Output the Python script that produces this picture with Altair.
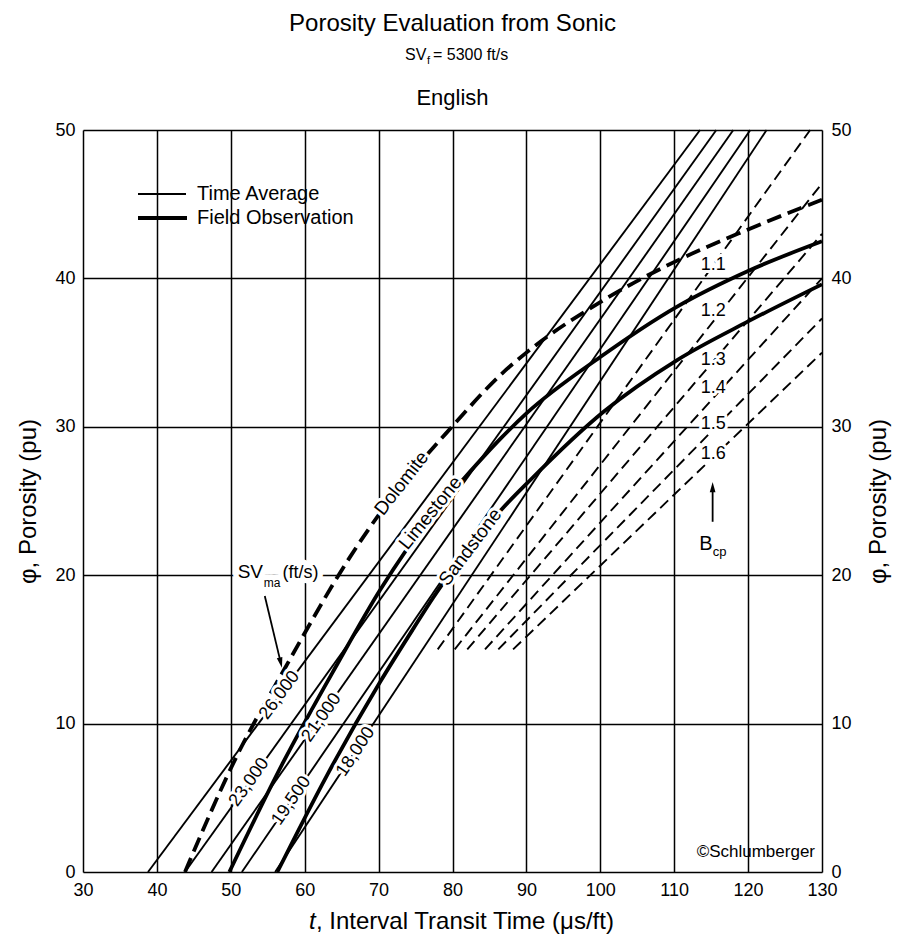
import altair as alt
import pandas as pd

FONT = "Liberation Sans, Arial, Helvetica, sans-serif"

# ---------------- data ----------------
x_ticks = [30, 40, 50, 60, 70, 80, 90, 100, 110, 120, 130]
y_ticks = [0, 10, 20, 30, 40, 50]

# Time-average lines, labelled by matrix sonic velocity SVma (ft/s)
ta_names = ["26,000", "23,000", "21,000", "19,500", "18,000"]
ta_t_start = [38.8, 43.8, 47.4, 51.5, 56.0]
ta_phi_start = [0, 0, 0, 0, 0]
ta_t_end = [113.5, 115.7, 118.0, 120.3, 122.5]
ta_phi_end = [50, 50, 50, 50, 50]

# Field-observation curves
dol_t = [43.8, 50.8, 57.4, 66.1, 70.5, 80.1, 86.5, 90.0, 100.0, 110.4, 120.0, 130.0]
dol_phi = [0, 7.8, 13.8, 21.2, 24.4, 30.1, 33.5, 35.0, 38.4, 41.2, 43.3, 45.3]
lime_t = [49.8, 57.1, 64.4, 70.2, 77.0, 81.7, 86.5, 90.0, 100.0, 110.4, 120.0, 130.0]
lime_phi = [0, 7.4, 14.0, 19.0, 23.9, 26.6, 29.2, 30.9, 34.7, 38.1, 40.5, 42.5]
sand_t = [56.3, 63.0, 70.2, 74.7, 77.4, 82.0, 86.4, 90.5, 100.4, 110.4, 120.0, 130.0]
sand_phi = [0, 6.5, 12.8, 16.4, 18.5, 21.7, 24.3, 26.4, 31.0, 34.5, 37.1, 39.6]

# Compaction-corrected (Bcp) lines
bcp_names = ["1.1", "1.2", "1.3", "1.4", "1.5", "1.6"]
bcp_t_start = [78.0, 80.3, 82.0, 84.4, 86.2, 88.2]
bcp_phi_start = [15, 15, 15, 15, 15, 15]
bcp_t_end = [128.4, 130, 130, 130, 130, 130]
bcp_phi_end = [50.0, 46.4, 43.0, 40.0, 37.3, 35.0]

# ---------------- annotation placement (data coordinates) ----------------
ta_lab_t = [56.6, 52.5, 62.3, 58.2, 66.9]
ta_lab_phi = [11.9, 6.05, 10.4, 4.8, 8.1]
ta_lab_angle = [306.6, 305.6, 305.1, 304.4, 303.5]

lith_names = ["Dolomite", "Limestone", "Sandstone"]
lith_lab_t = [73.1, 77.0, 82.4]
lith_lab_phi = [26.2, 24.2, 21.9]
lith_lab_angle = [308, 309, 307]

bcp_lab_t = [115.3] * 6
bcp_lab_phi = [40.9, 37.8, 34.5, 32.6, 30.2, 28.2]

# ---------------- build tables ----------------
xs = alt.Scale(domain=[30, 130], nice=False, zero=False)
ys = alt.Scale(domain=[0, 50], nice=False, zero=False)
W, H = 739, 742

ta_df = pd.DataFrame({"name": ta_names, "t0": ta_t_start, "p0": ta_phi_start,
                      "t1": ta_t_end, "p1": ta_phi_end})
bcp_df = pd.DataFrame({"name": bcp_names, "t0": bcp_t_start, "p0": bcp_phi_start,
                       "t1": bcp_t_end, "p1": bcp_phi_end})


def curve(name, ts, ps):
    return pd.DataFrame({"lith": name, "t": ts, "phi": ps, "ord": range(len(ts))})


solid_df = pd.concat([curve("Limestone", lime_t, lime_phi), curve("Sandstone", sand_t, sand_phi)])
dol_df = curve("Dolomite", dol_t, dol_phi)

one = pd.DataFrame({"a": [0]})

axis_common = dict(
    grid=True, gridColor="black", gridWidth=1.5, gridOpacity=1,
    domain=False, ticks=False, labelFlush=False,
    labelFont=FONT, labelFontSize=18, labelColor="black",
    titleFont=FONT, titleFontSize=24, titleFontWeight="normal", titleColor="black",
)


def X(f):
    return alt.X(f, scale=xs, axis=None)


def Y(f):
    return alt.Y(f, scale=ys, axis=None)


# time-average lines (carry bottom + left axes with grid)
ta_layer = alt.Chart(ta_df).mark_rule(color="black", strokeWidth=1.9).encode(
    x=alt.X("t0:Q", scale=xs, axis=alt.Axis(values=x_ticks, orient="bottom", labelPadding=9,
                                           title=None, **axis_common)),
    x2="t1:Q",
    y=alt.Y("p0:Q", scale=ys, axis=alt.Axis(values=y_ticks, orient="left", labelPadding=8,
                                           title="φ, Porosity (pu)", titlePadding=14,
                                           **axis_common)),
    y2="p1:Q",
)

right_axis = alt.Chart(pd.DataFrame({"phi": y_ticks})).mark_point(opacity=0).encode(
    x=alt.value(0),
    y=alt.Y("phi:Q", scale=ys, axis=alt.Axis(
        values=y_ticks, orient="right", grid=False, domain=False, ticks=False, labelFlush=False,
        labelPadding=9, labelFont=FONT, labelFontSize=18, labelColor="black",
        title="φ, Porosity (pu)", titleAngle=270, titleBaseline="top", titlePadding=15,
        titleFont=FONT, titleFontSize=24, titleFontWeight="normal", titleColor="black")),
)

bcp_layer = alt.Chart(bcp_df).mark_rule(color="black", strokeWidth=1.9, strokeDash=[11, 6]).encode(
    x=X("t0:Q"), x2="t1:Q", y=Y("p0:Q"), y2="p1:Q")

solid_layer = alt.Chart(solid_df).mark_line(color="black", strokeWidth=3.8, interpolate="monotone").encode(
    x=X("t:Q"), y=Y("phi:Q"), detail="lith:N", order="ord:Q")

dol_layer = alt.Chart(dol_df).mark_line(color="black", strokeWidth=3.8, strokeDash=[15, 7],
                                        interpolate="monotone").encode(
    x=X("t:Q"), y=Y("phi:Q"), order="ord:Q")

halos, texts = [], []


def halo_text(df, size, angle=False, align="center", baseline="middle", halo=6):
    enc = dict(x=X("t:Q"), y=Y("phi:Q"), text="label:N")
    if angle:
        enc["angle"] = alt.Angle("angle:Q", scale=None)
    halos.append(alt.Chart(df).mark_text(font=FONT, fontSize=size, align=align, baseline=baseline,
                                         fill="white", stroke="white", strokeWidth=halo,
                                         strokeJoin="round").encode(**enc))
    texts.append(alt.Chart(df).mark_text(font=FONT, fontSize=size, align=align, baseline=baseline,
                                         color="black").encode(**enc))


ta_lab_df = pd.DataFrame({"label": ta_names, "t": ta_lab_t, "phi": ta_lab_phi, "angle": ta_lab_angle})
lith_lab_df = pd.DataFrame({"label": lith_names, "t": lith_lab_t, "phi": lith_lab_phi, "angle": lith_lab_angle})
bcp_lab_df = pd.DataFrame({"label": bcp_names, "t": bcp_lab_t, "phi": bcp_lab_phi})

sv_main = pd.DataFrame({"label": ["SV"], "t": [54.36], "phi": [19.8]})
sv_sub = pd.DataFrame({"label": ["ma"], "t": [54.45], "phi": [19.2]})
sv_unit = pd.DataFrame({"label": ["(ft/s)"], "t": [57.0], "phi": [19.8]})
b_main = pd.DataFrame({"label": ["B"], "t": [114.3], "phi": [21.7]})
b_sub = pd.DataFrame({"label": ["cp"], "t": [115.2], "phi": [21.3]})

halo_text(ta_lab_df, 18, angle=True)
halo_text(lith_lab_df, 19, angle=True)
halo_text(bcp_lab_df, 18)
halo_text(sv_main, 19, align="right", baseline="alphabetic", halo=11)
halo_text(sv_sub, 12, align="left", baseline="alphabetic", halo=11)
halo_text(sv_unit, 18, align="left", baseline="alphabetic", halo=11)
halo_text(b_main, 20, baseline="alphabetic")
halo_text(b_sub, 13, align="left", baseline="alphabetic")

# arrows
arrow_df = pd.DataFrame({"t0": [54.6, 115.2], "p0": [18.6, 23.6], "t1": [56.74, 115.2], "p1": [14.14, 25.9]})
head_df = pd.DataFrame({"t": [56.74, 115.2], "phi": [14.14, 25.9], "angle": [167, 0]})
arrow_layer = alt.Chart(arrow_df).mark_rule(color="black", strokeWidth=1.8).encode(
    x=X("t0:Q"), x2="t1:Q", y=Y("p0:Q"), y2="p1:Q")
head_layer = alt.Chart(head_df).mark_point(shape="M0,-1L0.5,0.8L-0.5,0.8Z", filled=True, size=130,
                                           color="black", opacity=1).encode(
    x=X("t:Q"), y=Y("phi:Q"), angle=alt.Angle("angle:Q", scale=None))

# legend (pixel placement inside plot)
leg_thin = alt.Chart(one).mark_rule(color="black", strokeWidth=2).encode(
    x=alt.value(55), x2=alt.value(103), y=alt.value(64))
leg_thick = alt.Chart(one).mark_rule(color="black", strokeWidth=4.2).encode(
    x=alt.value(55), x2=alt.value(104), y=alt.value(88))


def ptext(txt, x, y, size, align="left", baseline="middle", style=None):
    kw = dict(text=txt, font=FONT, fontSize=size, align=align, baseline=baseline, color="black")
    if style:
        kw["fontStyle"] = style
    return alt.Chart(one).mark_text(**kw).encode(x=alt.value(x), y=alt.value(y))


extras = [
    ptext("Time Average", 114, 64, 20),
    ptext("Field Observation", 114, 88, 20),
    ptext("©Schlumberger", 732, 722, 17, align="right"),
    ptext("Porosity Evaluation from Sonic", 369.5, -99, 24, align="center", baseline="alphabetic"),
    ptext("SV", 322, -70, 16, baseline="alphabetic"),
    ptext("f", 344, -66, 11, baseline="alphabetic"),
    ptext("= 5300 ft/s", 350, -70, 16, baseline="alphabetic"),
    ptext("English", 369.5, -25, 22, align="center", baseline="alphabetic"),
    ptext("t", 226, 799, 24, baseline="alphabetic", style="italic"),
    ptext(", Interval Transit Time (μs/ft)", 233, 799, 24, baseline="alphabetic"),
]

chart = alt.layer(
    ta_layer, right_axis, bcp_layer, solid_layer, dol_layer,
    leg_thin, leg_thick, *halos, *texts, arrow_layer, head_layer, *extras,
).resolve_axis(x="independent", y="independent").properties(
    width=W, height=H,
    autosize=alt.AutoSizeParams(type="none"),
    padding={"left": 75, "top": 122, "right": 70, "bottom": 70},
).configure_view(stroke="black", strokeWidth=2.6).configure(background="white")

chart.save("out.html", embed_options={"renderer": "svg", "actions": False})
